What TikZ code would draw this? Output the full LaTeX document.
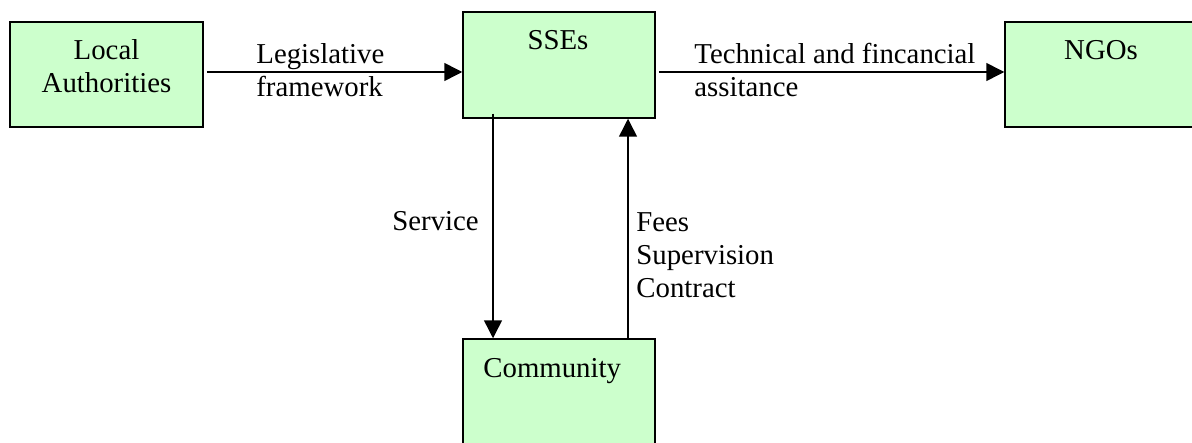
\documentclass[tikz,border=0pt]{standalone}
\usepackage{fontspec}
\setmainfont{Liberation Serif}
\usetikzlibrary{arrows.meta,calc}

\definecolor{boxgreen}{RGB}{204,255,204}

\tikzset{
  box/.style = {draw, line width=0.75pt, fill=boxgreen, inner sep=0pt},
  lbl/.style = {inner sep=0pt, align=left, font=\fontsize{14.4}{16.5}\selectfont},
  flow/.style = {line width=0.75pt, -{Triangle[length=9pt,width=9pt]}}
}

\begin{document}
\begin{tikzpicture}[x = 0.5pt, y = -0.5pt]
\useasboundingbox (0,0) rectangle (1192,443);

\node[box, minimum width=96.5pt, minimum height=52.5pt] (lauth) at (106.5,74.5) {};
\node[box, minimum width=96pt, minimum height=53pt] (sse) at (559,65) {};
\node[box, minimum width=104pt, minimum height=52.5pt] (ngo) at (1109,74.5) {};
\node[box, minimum width=96pt, minimum height=55pt] (comm) at (559,394) {};

\coordinate (axis) at (0,72);
\coordinate (svc) at (493,0);
\coordinate (fee) at (628,0);

\draw[flow] ($(lauth.east |- axis)+(3,0)$) -- (sse.west |- axis);
\draw[flow] ($(sse.east |- axis)+(3,0)$) -- (ngo.west |- axis);
\draw[flow] ($(sse.south -| svc)+(0,-5)$) -- (comm.north -| svc);
\draw[flow] (comm.north -| fee) -- (sse.south -| fee);

% multi-line labels sit on the baseline of their last line
\node[lbl, align=center, anchor=base] (lauthtxt) at (106.5,93) {Local\\Authorities};
\node[lbl, anchor=base] (ssetxt) at (558,50) {SSEs};
\node[lbl, anchor=base] (ngotxt) at (1101,60) {NGOs};
\node[lbl, anchor=base west] (commtxt) at (483,377) {Community};
\node[lbl, anchor=base west] (legal) at (256,97) {Legislative\\framework};
\node[lbl, anchor=base west] (aid) at (694,97) {Technical and fincancial\\assitance};
\node[lbl, anchor=base west] (service) at (392,230) {Service};
\node[lbl, anchor=base west] (fees) at (636,297) {Fees\\Supervision\\Contract};
\end{tikzpicture}
\end{document}
